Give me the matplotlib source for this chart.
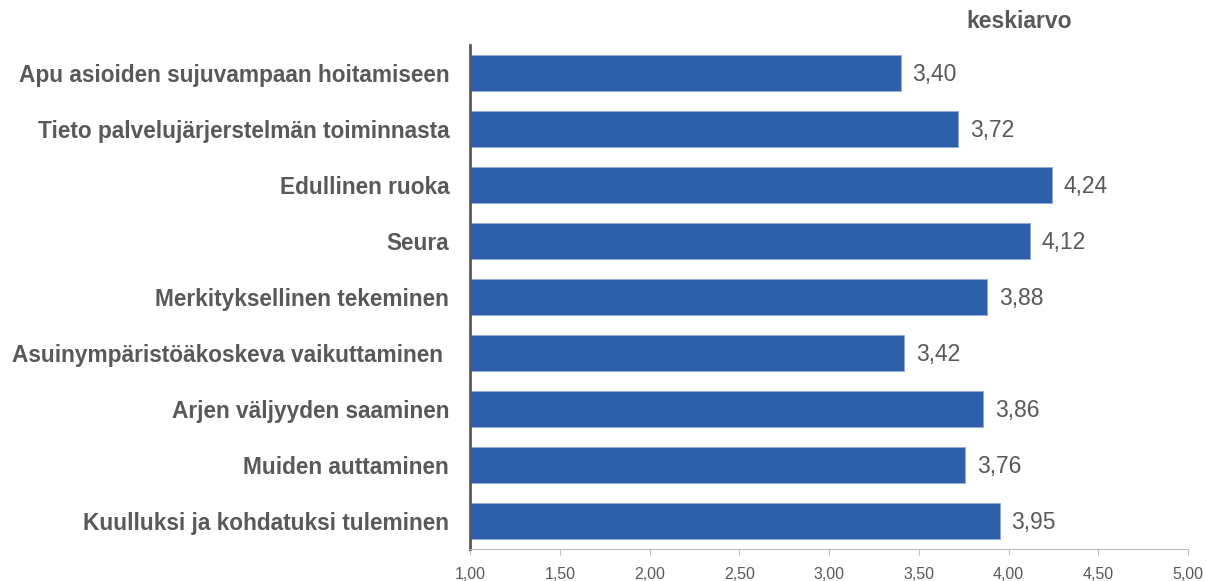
import matplotlib.pyplot as plt

categories = [
    "Apu asioiden sujuvampaan hoitamiseen",
    "Tieto palvelujärjerstelmän toiminnasta",
    "Edullinen ruoka",
    "Seura",
    "Merkityksellinen tekeminen",
    "Asuinympäristöäkoskeva vaikuttaminen ",
    "Arjen väljyyden saaminen",
    "Muiden auttaminen",
    "Kuulluksi ja kohdatuksi tuleminen",
]
values = [3.40, 3.72, 4.24, 4.12, 3.88, 3.42, 3.86, 3.76, 3.95]
xticks = [1.0, 1.5, 2.0, 2.5, 3.0, 3.5, 4.0, 4.5, 5.0]

grey = "#595959"
plt.rcParams["font.family"] = ["Liberation Sans", "DejaVu Sans"]

fig = plt.figure(figsize=(12.06, 5.81), dpi=100)
ax = fig.add_axes([470 / 1206, 1 - 549 / 581, 718 / 1206, 504 / 581])

y = list(range(len(categories)))
ax.barh(y, [v - 1 for v in values], left=1, height=0.64,
        color="#2E5FAA", edgecolor="#8FAADC", linewidth=0.6)

for yi, v in zip(y, values):
    ax.text(v + 0.065, yi + 0.03, f"{v:.2f}".replace(".", ","), va="center", ha="left",
            fontsize=16.5, color=grey)

ax.set_xlim(1, 5)
ax.set_ylim(len(categories) - 0.5, -0.5)
ax.set_yticks(y)
ax.set_yticklabels(categories, fontsize=16.3, fontweight="bold", color=grey)
ax.tick_params(axis="y", length=0, pad=15)
ax.set_xticks(xticks)
ax.set_xticklabels([f"{t:.2f}".replace(".", ",") for t in xticks], fontsize=11.5, color=grey)
ax.tick_params(axis="x", length=4.3, color="#BFBFBF", pad=9)

for s in ["top", "right"]:
    ax.spines[s].set_visible(False)
ax.spines["bottom"].set_color("#BFBFBF")
ax.spines["left"].set_color(grey)
ax.spines["left"].set_linewidth(2)

fig.text(1019 / 1206, 1 - 22 / 581, "keskiarvo", ha="center", va="center",
         fontsize=16.5, fontweight="bold", color=grey)

fig.savefig("out.png", dpi=100)
